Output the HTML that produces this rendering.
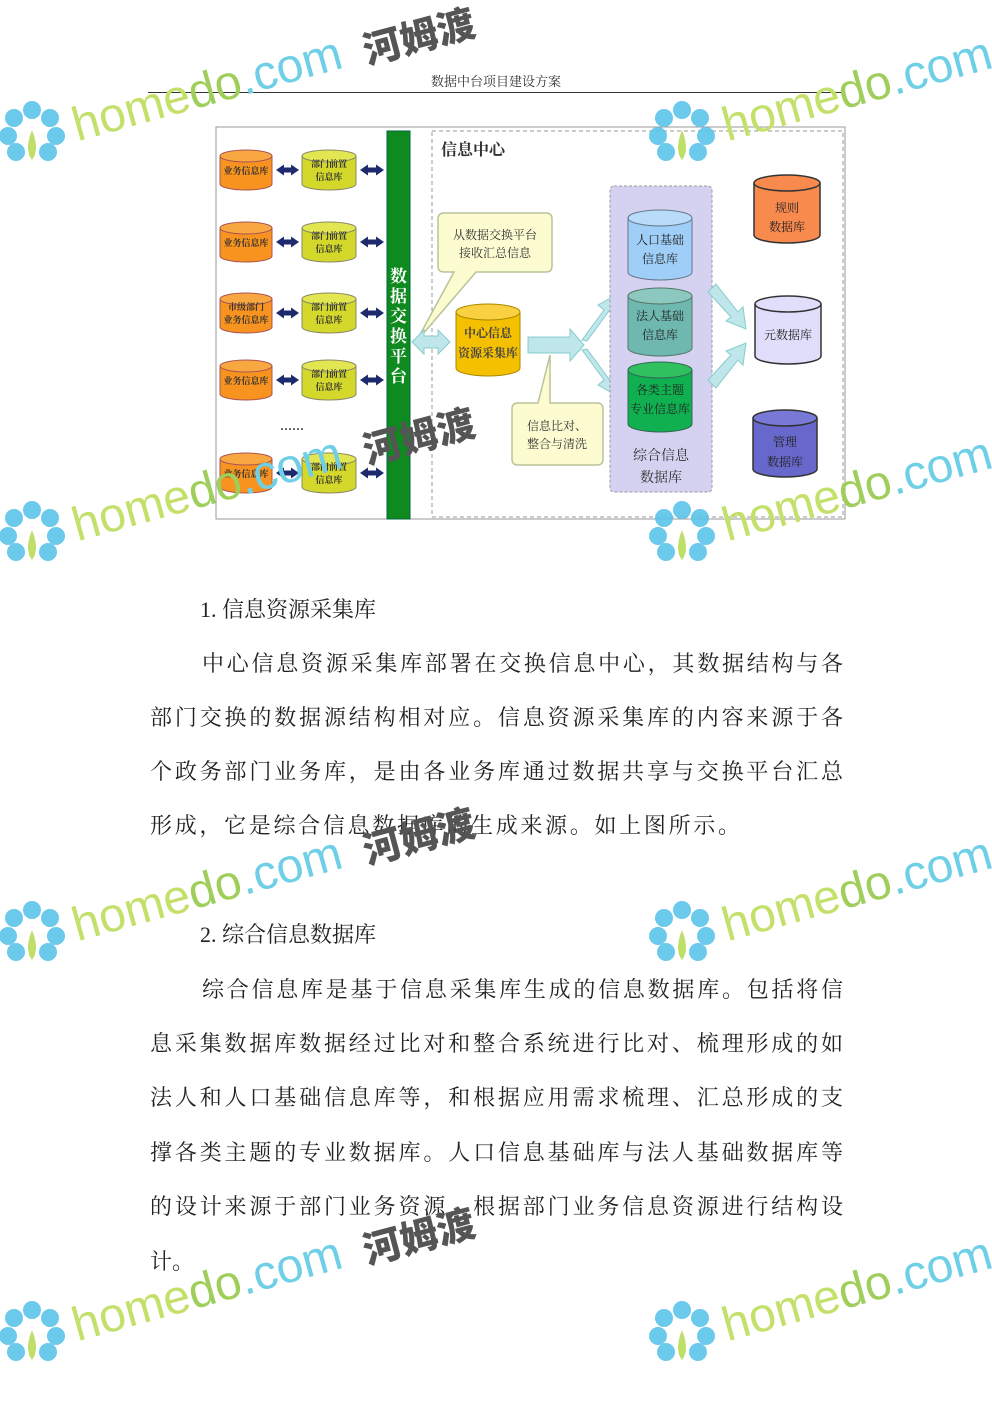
<!DOCTYPE html>
<html><head><meta charset="utf-8"><style>
body{margin:0;width:992px;height:1403px;background:#fff;position:relative;overflow:hidden;font-family:"Liberation Serif","Noto Serif CJK SC",serif;}
.l{position:absolute;left:150px;width:693px;font-size:22px;line-height:30px;color:#222;text-align:justify;text-align-last:justify;white-space:nowrap;}
.h{position:absolute;font-size:22px;line-height:30px;color:#222;}
.wm{position:absolute;font-family:"Liberation Sans",sans-serif;font-size:48px;transform-origin:0 0;transform:rotate(-15.5deg);white-space:nowrap;}
.wm .a{color:#c3e06a}.wm .b{color:#9fcf5a}.wm .c{color:#6fcfe6}
.hm{position:absolute;font-family:"Noto Sans CJK SC",sans-serif;font-weight:900;font-size:38px;color:#555;transform:rotate(-15deg);transform-origin:0 0;}
</style></head><body>
<div style="position:absolute;left:0;width:992px;top:71px;text-align:center;font-size:13px;color:#333;">数据中台项目建设方案</div>
<div style="position:absolute;left:148px;top:92px;width:697px;height:1px;background:#333"></div>

<svg style="position:absolute;left:0;top:0" width="992" height="560" font-family="Liberation Serif,Noto Serif CJK SC,serif">
<defs>
<marker id="n" markerUnits="userSpaceOnUse" markerWidth="8" markerHeight="11" refX="4" refY="5.5" orient="auto-start-reverse"><path d="M0,0L8,5.5L0,11z" fill="#1e2a6e"/></marker>
</defs>
<rect x="216" y="127" width="629" height="392" fill="#fff" stroke="#999" stroke-width="1"/>
<rect x="432" y="131" width="411" height="386" fill="#fff" stroke="#999" stroke-dasharray="4,3"/>
<text x="441" y="155" font-size="16" font-weight="bold" fill="#333">信息中心</text>
<rect x="387" y="131" width="23" height="388" fill="#0e8a1e" stroke="#064"/>
<text font-size="17" fill="#fff" font-weight="bold"><tspan x="390" y="282">数</tspan><tspan x="390" y="302">据</tspan><tspan x="390" y="322">交</tspan><tspan x="390" y="342">换</tspan><tspan x="390" y="362">平</tspan><tspan x="390" y="382">台</tspan></text>
<g font-size="9" font-weight="bold" text-anchor="middle" fill="#333">
<g transform="translate(0,170)">
<path d="M220,-14 v28 a26,6 0 0 0 52,0 v-28" fill="#f7931e" stroke="#a55"/><ellipse cx="246" cy="-14" rx="26" ry="6" fill="#f9a740" stroke="#a55"/>
<path d="M302,-14 v28 a27,6 0 0 0 54,0 v-28" fill="#d4d82a" stroke="#886"/><ellipse cx="329" cy="-14" rx="27" ry="6" fill="#e2e650" stroke="#886"/>
<line x1="280" y1="0" x2="295" y2="0" stroke="#1e2a6e" stroke-width="5" marker-start="url(#n)" marker-end="url(#n)"/>
<line x1="364" y1="0" x2="380" y2="0" stroke="#1e2a6e" stroke-width="5" marker-start="url(#n)" marker-end="url(#n)"/>
<text x="246" y="4">业务信息库</text><text x="329" y="-3">部门前置</text><text x="329" y="10">信息库</text></g>
<g transform="translate(0,242)">
<path d="M220,-14 v28 a26,6 0 0 0 52,0 v-28" fill="#f7931e" stroke="#a55"/><ellipse cx="246" cy="-14" rx="26" ry="6" fill="#f9a740" stroke="#a55"/>
<path d="M302,-14 v28 a27,6 0 0 0 54,0 v-28" fill="#d4d82a" stroke="#886"/><ellipse cx="329" cy="-14" rx="27" ry="6" fill="#e2e650" stroke="#886"/>
<line x1="280" y1="0" x2="295" y2="0" stroke="#1e2a6e" stroke-width="5" marker-start="url(#n)" marker-end="url(#n)"/>
<line x1="364" y1="0" x2="380" y2="0" stroke="#1e2a6e" stroke-width="5" marker-start="url(#n)" marker-end="url(#n)"/>
<text x="246" y="4">业务信息库</text><text x="329" y="-3">部门前置</text><text x="329" y="10">信息库</text></g>
<g transform="translate(0,313)">
<path d="M220,-14 v28 a26,6 0 0 0 52,0 v-28" fill="#f7931e" stroke="#a55"/><ellipse cx="246" cy="-14" rx="26" ry="6" fill="#f9a740" stroke="#a55"/>
<path d="M302,-14 v28 a27,6 0 0 0 54,0 v-28" fill="#d4d82a" stroke="#886"/><ellipse cx="329" cy="-14" rx="27" ry="6" fill="#e2e650" stroke="#886"/>
<line x1="280" y1="0" x2="295" y2="0" stroke="#1e2a6e" stroke-width="5" marker-start="url(#n)" marker-end="url(#n)"/>
<line x1="364" y1="0" x2="380" y2="0" stroke="#1e2a6e" stroke-width="5" marker-start="url(#n)" marker-end="url(#n)"/>
<text x="246" y="-3">市级部门</text><text x="246" y="10">业务信息库</text><text x="329" y="-3">部门前置</text><text x="329" y="10">信息库</text></g>
<g transform="translate(0,380)">
<path d="M220,-14 v28 a26,6 0 0 0 52,0 v-28" fill="#f7931e" stroke="#a55"/><ellipse cx="246" cy="-14" rx="26" ry="6" fill="#f9a740" stroke="#a55"/>
<path d="M302,-14 v28 a27,6 0 0 0 54,0 v-28" fill="#d4d82a" stroke="#886"/><ellipse cx="329" cy="-14" rx="27" ry="6" fill="#e2e650" stroke="#886"/>
<line x1="280" y1="0" x2="295" y2="0" stroke="#1e2a6e" stroke-width="5" marker-start="url(#n)" marker-end="url(#n)"/>
<line x1="364" y1="0" x2="380" y2="0" stroke="#1e2a6e" stroke-width="5" marker-start="url(#n)" marker-end="url(#n)"/>
<text x="246" y="4">业务信息库</text><text x="329" y="-3">部门前置</text><text x="329" y="10">信息库</text></g>
<text x="292" y="430" font-size="12">……</text>
<g transform="translate(0,473)">
<path d="M220,-14 v28 a26,6 0 0 0 52,0 v-28" fill="#f7931e" stroke="#a55"/><ellipse cx="246" cy="-14" rx="26" ry="6" fill="#f9a740" stroke="#a55"/>
<path d="M302,-14 v28 a27,6 0 0 0 54,0 v-28" fill="#d4d82a" stroke="#886"/><ellipse cx="329" cy="-14" rx="27" ry="6" fill="#e2e650" stroke="#886"/>
<line x1="280" y1="0" x2="295" y2="0" stroke="#1e2a6e" stroke-width="5" marker-start="url(#n)" marker-end="url(#n)"/>
<line x1="364" y1="0" x2="380" y2="0" stroke="#1e2a6e" stroke-width="5" marker-start="url(#n)" marker-end="url(#n)"/>
<text x="246" y="4">业务信息库</text><text x="329" y="-3">部门前置</text><text x="329" y="10">信息库</text></g>
</g>
<path d="M444,213 h102 q6,0 6,6 v47 q0,6 -6,6 h-70 l-60,70 l38,-70 h-10 q-6,0 -6,-6 v-47 q0,-6 6,-6z" fill="#fdfbd0" stroke="#b8c49a" stroke-width="1.5"/>
<text font-size="12" fill="#333" text-anchor="middle"><tspan x="495" y="239">从数据交换平台</tspan><tspan x="495" y="257">接收汇总信息</tspan></text>
<path d="M412,342 l12,-12 v6 h14 v-6 l12,12 l-12,12 v-6 h-14 v6z" fill="#bfe6ea" stroke="#8cc"/>
<path d="M456,312 v56 a32,8 0 0 0 64,0 v-56" fill="#f5c000" stroke="#a80"/><ellipse cx="488" cy="312" rx="32" ry="8" fill="#f8d040" stroke="#a80"/>
<text font-size="12" font-weight="bold" fill="#444" text-anchor="middle"><tspan x="488" y="337">中心信息</tspan><tspan x="488" y="357">资源采集库</tspan></text>
<path d="M528,337 h42 v-8 l14,16 l-14,16 v-8 h-42z" fill="#bfe6ea" stroke="#8cc"/>
<path d="M582,340 l22,-30 l-6,-5 l18,-10 l-2,20 l-5,-4 l-22,30z" fill="#bfe6ea" stroke="#8cc"/>
<path d="M582,350 l22,30 l-6,5 l18,10 l-2,-20 l-5,4 l-22,-30z" fill="#bfe6ea" stroke="#8cc"/>
<path d="M518,403 h20 l12,-48 l0,48 h47 q6,0 6,6 v50 q0,6 -6,6 h-79 q-6,0 -6,-6 v-50 q0,-6 6,-6z" fill="#fdfbd0" stroke="#b8c49a" stroke-width="1.5"/>
<text font-size="12" fill="#333" text-anchor="middle"><tspan x="557" y="430">信息比对、</tspan><tspan x="557" y="448">整合与清洗</tspan></text>
<rect x="610" y="186" width="102" height="306" rx="4" fill="#d4d2f0" stroke="#999" stroke-dasharray="3,2"/>
<path d="M628,218 v54 a32,8 0 0 0 64,0 v-54" fill="#9fcff8" stroke="#678"/><ellipse cx="660" cy="218" rx="32" ry="8" fill="#b8dcfa" stroke="#678"/>
<path d="M628,296 v52 a32,8 0 0 0 64,0 v-52" fill="#6fb8b0" stroke="#576"/><ellipse cx="660" cy="296" rx="32" ry="8" fill="#8cc8c0" stroke="#576"/>
<path d="M628,370 v54 a32,8 0 0 0 64,0 v-54" fill="#10b050" stroke="#365"/><ellipse cx="660" cy="370" rx="32" ry="8" fill="#30c060" stroke="#365"/>
<text font-size="12" fill="#222" text-anchor="middle"><tspan x="660" y="244">人口基础</tspan><tspan x="660" y="263">信息库</tspan><tspan x="660" y="320">法人基础</tspan><tspan x="660" y="339">信息库</tspan><tspan x="660" y="394">各类主题</tspan><tspan x="660" y="413">专业信息库</tspan></text>
<text font-size="14" fill="#333" text-anchor="middle"><tspan x="661" y="460">综合信息</tspan><tspan x="661" y="482">数据库</tspan></text>
<path d="M708,292 l8,-8 l22,28 l5,-5 l3,22 l-20,-8 l5,-4z" fill="#bfe6ea" stroke="#8cc"/>
<path d="M708,380 l8,8 l22,-28 l5,5 l3,-22 l-20,8 l5,4z" fill="#bfe6ea" stroke="#8cc"/>
<path d="M754,183 v52 a33,8 0 0 0 66,0 v-52" fill="#f98a4e" stroke="#333" stroke-width="1.5"/><ellipse cx="787" cy="183" rx="33" ry="8" fill="#f98a4e" stroke="#333" stroke-width="1.5"/>
<path d="M755,304 v52 a33,8 0 0 0 66,0 v-52" fill="#e0defa" stroke="#333" stroke-width="1.5"/><ellipse cx="788" cy="304" rx="33" ry="8" fill="#e0defa" stroke="#333" stroke-width="1.5"/>
<path d="M753,418 v51 a32,8 0 0 0 64,0 v-51" fill="#6868cc" stroke="#333" stroke-width="1.5"/><ellipse cx="785" cy="418" rx="32" ry="8" fill="#7878d6" stroke="#333" stroke-width="1.5"/>
<text font-size="12" fill="#222" text-anchor="middle"><tspan x="787" y="212">规则</tspan><tspan x="787" y="231">数据库</tspan><tspan x="788" y="339">元数据库</tspan><tspan x="785" y="446">管理</tspan><tspan x="785" y="466">数据库</tspan></text>
</svg>

<div class="h" style="left:200px;top:595px">1. 信息资源采集库</div>
<div class="l" style="top:649px;left:202px;width:641px">中心信息资源采集库部署在交换信息中心，其数据结构与各</div>
<div class="l" style="top:703px">部门交换的数据源结构相对应。信息资源采集库的内容来源于各</div>
<div class="l" style="top:757px">个政务部门业务库，是由各业务库通过数据共享与交换平台汇总</div>
<div class="l" style="top:811px;width:590px">形成，它是综合信息数据库的生成来源。如上图所示。</div>
<div class="h" style="left:200px;top:920px">2. 综合信息数据库</div>
<div class="l" style="top:975px;left:202px;width:641px">综合信息库是基于信息采集库生成的信息数据库。包括将信</div>
<div class="l" style="top:1029px">息采集数据库数据经过比对和整合系统进行比对、梳理形成的如</div>
<div class="l" style="top:1083px">法人和人口基础信息库等，和根据应用需求梳理、汇总形成的支</div>
<div class="l" style="top:1138px">撑各类主题的专业数据库。人口信息基础库与法人基础数据库等</div>
<div class="l" style="top:1192px">的设计来源于部门业务资源，根据部门业务信息资源进行结构设</div>
<div class="h" style="left:150px;top:1247px">计。</div>

<div style="position:absolute;left:0;top:0;width:992px;height:1403px;pointer-events:none">
<svg width="992" height="1403" style="position:absolute;left:0;top:0">
<g id="f" fill="#5cc4ea" opacity="0.9">
<circle cx="32" cy="110" r="9"/><circle cx="50" cy="118" r="9"/><circle cx="56" cy="136" r="9"/><circle cx="48" cy="152" r="9"/><circle cx="14" cy="118" r="9"/><circle cx="8" cy="136" r="9"/><circle cx="16" cy="152" r="9"/>
<path d="M32,130 q-8,20 0,30 q8,-10 0,-30z" fill="#b8dc5a"/>
</g>
<use href="#f" x="650" y="0"/><use href="#f" x="0" y="400"/><use href="#f" x="650" y="400"/>
<use href="#f" x="0" y="800"/><use href="#f" x="650" y="800"/><use href="#f" x="0" y="1200"/><use href="#f" x="650" y="1200"/>
</svg>
</div>
<div class="wm" style="left:66px;top:100px"><span class="a">home</span><span class="b">do</span><span class="c">.com</span></div>
<div class="wm" style="left:716px;top:100px"><span class="a">home</span><span class="b">do</span><span class="c">.com</span></div>
<div class="wm" style="left:66px;top:500px"><span class="a">home</span><span class="b">do</span><span class="c">.com</span></div>
<div class="wm" style="left:716px;top:500px"><span class="a">home</span><span class="b">do</span><span class="c">.com</span></div>
<div class="wm" style="left:66px;top:900px"><span class="a">home</span><span class="b">do</span><span class="c">.com</span></div>
<div class="wm" style="left:716px;top:900px"><span class="a">home</span><span class="b">do</span><span class="c">.com</span></div>
<div class="wm" style="left:66px;top:1300px"><span class="a">home</span><span class="b">do</span><span class="c">.com</span></div>
<div class="wm" style="left:716px;top:1300px"><span class="a">home</span><span class="b">do</span><span class="c">.com</span></div>
<div class="hm" style="left:356px;top:22px">河姆渡</div>
<div class="hm" style="left:356px;top:422px">河姆渡</div>
<div class="hm" style="left:356px;top:822px">河姆渡</div>
<div class="hm" style="left:356px;top:1222px">河姆渡</div>
</body></html>
